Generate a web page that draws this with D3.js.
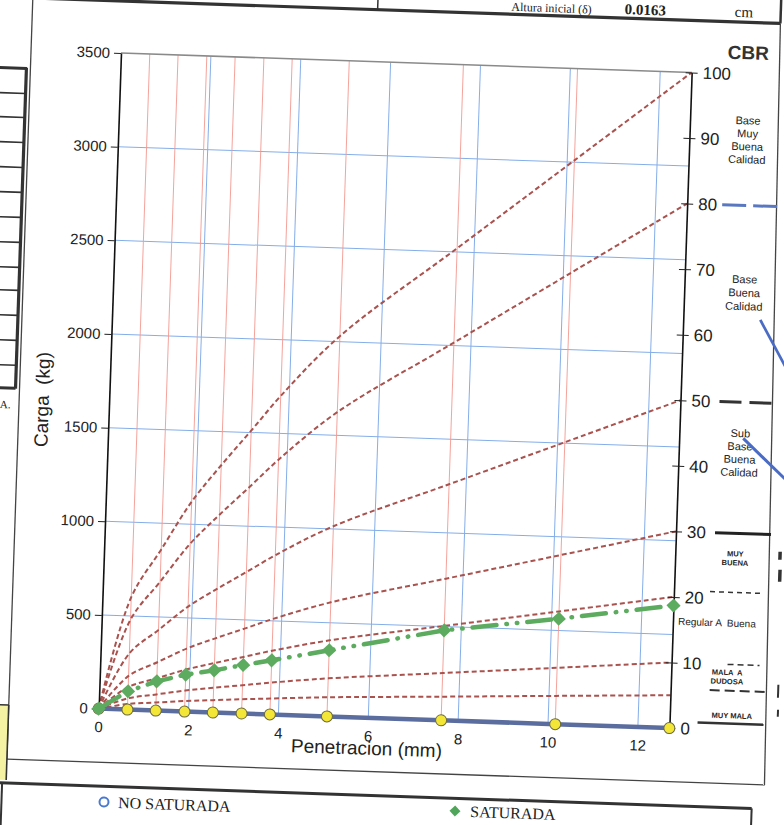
<!DOCTYPE html>
<html><head><meta charset="utf-8">
<script src="https://cdn.jsdelivr.net/npm/d3@7"></script>
<style>body{margin:0;background:#fff}svg{display:block}</style>
</head><body><svg id="c" width="784" height="825"></svg>
<script>
// ---------- DATA ----------
const penetration = [0, 0.64, 1.27, 1.91, 2.54, 3.18, 3.81, 5.08, 7.62, 10.16, 12.7];
const saturada    = [0, 98, 156, 197, 225, 259, 289, 353, 480, 563, 654];
const noSaturada  = [0, 0, 0, 0, 0, 0, 0, 0, 0, 0, 0];
const cbr100 = [0, 600, 860, 1120, 1320, 1510, 1700, 2030, 2520, 3010, 3500];
const cbr80  = [0, 480, 688, 896, 1056, 1208, 1360, 1624, 2016, 2408, 2800];
const cbr50  = [0, 300, 430, 560, 660, 755, 850, 1015, 1260, 1505, 1750];
const cbr30  = [0, 180, 258, 336, 396, 453, 510, 609, 756, 903, 1050];
const cbr20  = [0, 120, 172, 224, 264, 302, 340, 406, 504, 602, 700];
const cbr10  = [0, 60, 86, 112, 132, 151, 170, 203, 252, 301, 350];
const cbr5   = [0, 30, 43, 56, 66, 76, 85, 102, 126, 151, 175];
const yTicks = [0, 500, 1000, 1500, 2000, 2500, 3000, 3500];
const xTicks = [0, 2, 4, 6, 8, 10, 12];
const cbrTicks = [0, 10, 20, 30, 40, 50, 60, 70, 80, 90, 100];

// ---------- LAYOUT ----------
const L = 121, T = 53, W = 571, H = 656, R = L + W, B = T + H;
const ANG = 1.95;
const S = Math.sin(ANG * Math.PI / 180), C = Math.cos(ANG * Math.PI / 180);
// map a point seen on the (tilted) scan back into the unrotated frame
const P = (x, y) => { const dx = x - L, dy = y - T; return [L + dx * C + dy * S, T - dx * S + dy * C]; };

const svg = d3.select('#c');
svg.append('rect').attr('width', 784).attr('height', 825).attr('fill', '#fff');
const g = svg.append('g').attr('transform', `rotate(${ANG},${L},${T})`);

const x = d3.scaleLinear().domain([0, 12.7]).range([L, R]);
const y = d3.scaleLinear().domain([0, 3500]).range([B, T]);
const yc = d3.scaleLinear().domain([0, 100]).range([B, T]);

const SANS = "'Liberation Sans', Arial, sans-serif";
const SERIF = "'Liberation Serif', 'Times New Roman', serif";

// ---------- PAGE DECORATIONS ----------
const line = (x1, y1, x2, y2, w, col, dash) => {
  const l = g.append('line').attr('x1', x1).attr('y1', y1).attr('x2', x2).attr('y2', y2)
    .attr('stroke', col || '#222').attr('stroke-width', w || 1);
  if (dash) l.attr('stroke-dasharray', dash);
  return l;
};
// top table
line(-20, 1, 779, 1, 3.2, '#333');
line(376, -30, 376, 1, 1.5, '#333');
line(779, -30, 779, 1, 2.5, '#333');
g.append('text').attr('x', 590).attr('y', -2.5).attr('text-anchor', 'end')
  .style('font-family', SERIF).style('font-size', '12px').attr('fill', '#222').text('Altura inicial (δ)');
g.append('text').attr('x', 623).attr('y', -3)
  .style('font-family', SERIF).style('font-size', '15px').style('font-weight', 'bold').attr('fill', '#222').text('0.0163');
g.append('text').attr('x', 733).attr('y', -4)
  .style('font-family', SERIF).style('font-size', '15px').attr('fill', '#222').text('cm');
// chart box
line(31, 1, 31, 763, 1.3, '#444');
line(31, 762.6, 789, 762.6, 1.3, '#444');
line(779, 1, 789, 763, 1.3, '#444');
// left table
line(-30, 71.6, 27.5, 71.6, 3, '#333');
line(27, 71, 27, 392, 3.2, '#333');
[96.7, 120.7, 145.7, 170.7, 195.7, 220.7, 245.7, 270.7, 293.7, 318.7, 343.7, 368.7].forEach(v => line(-30, v, 27, v, 1.6, '#333'));
line(-30, 391.7, 27, 391.7, 3, '#333');
g.append('text').attr('x', 12).attr('y', 412).style('font-family', SERIF).style('font-size', '11px').attr('fill', '#222').text('A.');
// yellow box
g.append('rect').attr('x', -40).attr('y', 708.5).attr('width', 71).attr('height', 75).attr('fill', '#f6f2a4');
line(-40, 708.5, 31, 708.5, 1.5, '#333');
line(31, 708.5, 31, 783.5, 1.6, '#333');
// legend box
line(-40, 786.5, 777, 786.5, 3, '#333');
line(777, 786.5, 777, 840, 2, '#333');
line(27, 786.5, 27, 840, 2, '#333');
// small marks far right
[[795, 529, 3.5, 8], [795.5, 547, 3.5, 12], [798.5, 662, 2, 13], [799, 687, 2, 7]].forEach(r =>
  g.append('rect').attr('x', r[0]).attr('y', r[1]).attr('width', r[2]).attr('height', r[3]).attr('fill', '#333'));

// ---------- GRID ----------
const grid = g.append('g');
yTicks.filter(v => v > 0 && v < 3500).forEach(v =>
  grid.append('line').attr('x1', L).attr('x2', R).attr('y1', y(v)).attr('y2', y(v)).attr('stroke', '#84aee8').attr('stroke-width', 1));
xTicks.filter(v => v > 0).forEach(v =>
  grid.append('line').attr('x1', x(v)).attr('x2', x(v)).attr('y1', T).attr('y2', B).attr('stroke', '#84aee8').attr('stroke-width', 1));
penetration.filter(v => v > 0 && v < 12.7).forEach(v =>
  grid.append('line').attr('x1', x(v)).attr('x2', x(v)).attr('y1', T).attr('y2', B).attr('stroke', '#f39a92').attr('stroke-width', 0.9));

// top frame line
line(L, T, R, T, 1.6, '#8a8a8a');

// ---------- CBR REFERENCE CURVES ----------
const lineGen = d3.line().x((d, i) => x(penetration[i])).y(d => y(d)).curve(d3.curveCatmullRom.alpha(0.5));
[cbr100, cbr80, cbr50, cbr30, cbr20, cbr10, cbr5].forEach(s =>
  g.append('path').attr('d', lineGen(s)).attr('fill', 'none').attr('stroke', '#a9524e')
    .attr('stroke-width', 2).attr('stroke-dasharray', '5,3'));

// ---------- AXES ----------
const ax = g.append('g').attr('transform', `translate(${L},0)`)
  .call(d3.axisLeft(y).tickValues(yTicks).tickFormat(d3.format('d')).tickSize(7).tickSizeOuter(0).tickPadding(4));
ax.select('.domain').attr('stroke', '#111').attr('stroke-width', 1.6);
ax.selectAll('.tick line').attr('stroke', '#222');
ax.selectAll('text').style('font-family', SANS).style('font-size', '15px').attr('fill', '#222');

const bx = g.append('g').attr('transform', `translate(0,${B})`)
  .call(d3.axisBottom(x).tickValues(xTicks).tickFormat(d3.format('d')).tickSize(0).tickPadding(13));
bx.select('.domain').remove();
bx.selectAll('text').style('font-family', SANS).style('font-size', '15px').attr('fill', '#222');

const rx = g.append('g').attr('transform', `translate(${R},0)`)
  .call(d3.axisRight(yc).tickValues(cbrTicks).tickSize(6).tickSizeOuter(0).tickPadding(5));
rx.select('.domain').attr('stroke', '#111').attr('stroke-width', 1.6);
rx.selectAll('.tick line').attr('x1', -6).attr('stroke', '#222');
rx.selectAll('text').style('font-family', SANS).style('font-size', '17px').attr('fill', '#222');

g.append('text').attr('x', 748).attr('y', 38).attr('text-anchor', 'middle')
  .style('font-family', SANS).style('font-size', '19px').style('font-weight', 'bold').attr('fill', '#333').text('CBR');
g.append('text').attr('transform', 'translate(54,402) rotate(-90)').attr('text-anchor', 'middle').attr('dy', '0.35em')
  .style('font-family', SANS).style('font-size', '19px').style('white-space', 'pre').attr('fill', '#222').text('Carga  (kg)');
g.append('text').attr('x', 390).attr('y', 746).attr('text-anchor', 'middle')
  .style('font-family', SANS).style('font-size', '19px').attr('fill', '#222').text('Penetracion (mm)');

// ---------- CBR CLASS ANNOTATIONS ----------
const multi = (lines, cx, cy, size, weight, gap) => {
  const n = lines.length;
  lines.forEach((t, i) => g.append('text').attr('x', cx).attr('y', cy + (i - (n - 1) / 2) * gap).attr('dy', '0.35em')
    .attr('text-anchor', 'middle').style('font-family', SANS).style('font-size', size + 'px')
    .style('font-weight', weight).style('white-space', 'pre').attr('fill', '#222').text(t));
};
multi(['Base', 'Muy', 'Buena', 'Calidad'], 750, yc(90), 11, 'normal', 13);
multi(['Base', 'Buena', 'Calidad'], 752, yc(66.7), 11, 'normal', 13.5);
multi(['Sub', 'Base', 'Buena', 'Calidad'], 753, yc(42.3), 11, 'normal', 13);
multi(['MUY', 'BUENA'], 752, yc(26.2), 7.5, 'bold', 9);
multi(['Regular A  Buena'], 736, yc(16.3), 10, 'normal', 10);
multi(['MALA  A', 'DUDOSA'], 748, yc(8.1), 7.5, 'bold', 9);
multi(['MUY MALA'], 754, yc(2.2), 7.5, 'bold', 9);

line(727, yc(80), 782, yc(80), 3, '#5a78c0', '24,7');
line(731, yc(50), 786, yc(50), 3, '#333', '22,8');
line(731, yc(30), 787, yc(30), 3, '#222');
line(728, yc(21), 781, yc(21), 1.5, '#333', '5,4');
line(748, yc(10), 780, yc(10), 1.5, '#333', '6,4');
line(731, yc(6), 790, yc(6), 2, '#333', '10,5');
line(720, yc(1), 786, yc(1), 2.5, '#333');
// hand-drawn ink strokes
line(769, 298, 805, 360, 2.8, '#4a6cc4');
line(756, 417, 810, 466, 3, '#4a6cc4');

// ---------- SERIES ----------
const serGen = d3.line().x((d, i) => x(penetration[i])).y(d => y(d));
g.append('path').attr('d', serGen(noSaturada)).attr('fill', 'none').attr('stroke', '#5a6d9e').attr('stroke-width', 4.5);
g.selectAll('circle.ns').data(noSaturada).enter().append('circle').attr('class', 'ns')
  .attr('cx', (d, i) => x(penetration[i])).attr('cy', d => y(d)).attr('r', 5.5)
  .attr('fill', '#f3e636').attr('stroke', '#6b6a40').attr('stroke-width', 1);

g.append('path').attr('d', serGen(saturada)).attr('fill', 'none').attr('stroke', '#5cab5f')
  .attr('stroke-width', 4.5).attr('stroke-linecap', 'round').attr('stroke-dasharray', '24,10,0.5,10,0.5,10');
const diamond = d3.symbol().type(d3.symbolSquare).size(100);
g.selectAll('path.sd').data(saturada).enter().append('path').attr('class', 'sd')
  .attr('d', diamond).attr('fill', '#5cab5f')
  .attr('transform', (d, i) => `translate(${x(penetration[i])},${y(d)}) rotate(45)`);

// ---------- LEGEND ----------
const lc = P(104, 802), lt = P(118, 808), sc = P(455, 811), st = P(470, 817);
g.append('circle').attr('cx', lc[0]).attr('cy', lc[1]).attr('r', 4.5).attr('fill', '#fff').attr('stroke', '#4a7ad0').attr('stroke-width', 2);
g.append('text').attr('x', lt[0]).attr('y', lt[1]).style('font-family', SERIF).style('font-size', '16px').attr('fill', '#222').text('NO SATURADA');
g.append('path').attr('d', d3.symbol().type(d3.symbolSquare).size(60)).attr('fill', '#4fa65a')
  .attr('transform', `translate(${sc[0]},${sc[1]}) rotate(45)`);
g.append('text').attr('x', st[0]).attr('y', st[1]).style('font-family', SERIF).style('font-size', '16px').attr('fill', '#222').text('SATURADA');
</script></body></html>
